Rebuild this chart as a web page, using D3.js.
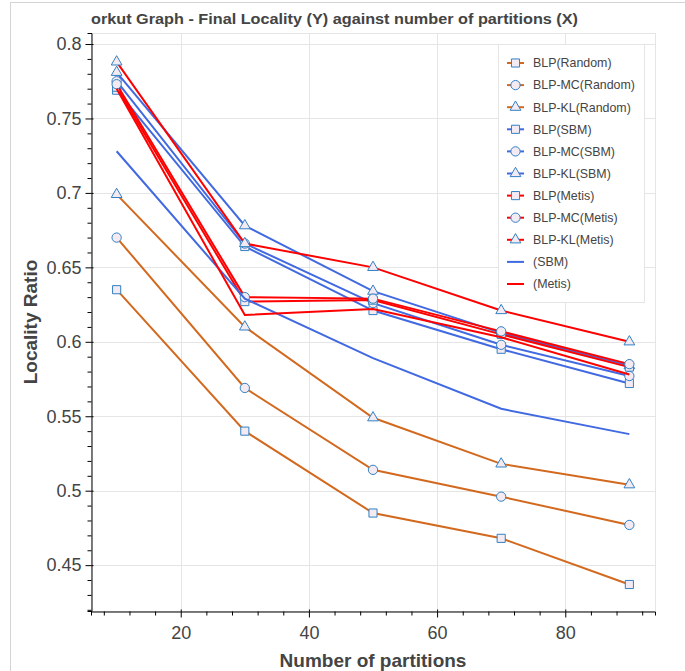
<!DOCTYPE html>
<meta charset="utf-8">
<style>

body {
  margin: 0;
  background: #fff;
}

text {
  font-family: "Liberation Sans", Arial, Helvetica, sans-serif;
  fill: #444;
}

.title {
  font-size: 14.5px;
  font-weight: bold;
}

.axis-label {
  font-size: 19px;
  font-weight: bold;
  text-anchor: middle;
}

.axis text {
  font-size: 18px;
  fill: #444;
}

.axis path,
.axis line {
  stroke: #000;
}

.grid line {
  stroke: #e5e5e5;
  stroke-width: 1px;
}

.legend text {
  font-size: 12.4px;
}

</style>
<svg width="685" height="671"></svg>
<script src="https://d3js.org/d3.v7.min.js"></script>
<script>

// values
var partitions = [10, 30, 50, 70, 90];

var blpRandom   = [0.635, 0.540, 0.485, 0.468, 0.437],
    blpMcRandom = [0.670, 0.569, 0.514, 0.496, 0.477],
    blpKlRandom = [0.699, 0.610, 0.549, 0.518, 0.504];

var blpSbm   = [0.769, 0.664, 0.621, 0.595, 0.572],
    blpMcSbm = [0.775, 0.666, 0.626, 0.598, 0.577],
    blpKlSbm = [0.781, 0.678, 0.634, 0.606, 0.584];

var blpMetis   = [0.771, 0.627, 0.628, 0.605, 0.583],
    blpMcMetis = [0.773, 0.630, 0.629, 0.607, 0.585],
    blpKlMetis = [0.788, 0.666, 0.650, 0.621, 0.600];

var sbmOnly   = [0.728, 0.629, 0.589, 0.555, 0.538],
    metisOnly = [0.770, 0.618, 0.622, 0.603, 0.578];

var seriesNames = ["BLP(Random)", "BLP-MC(Random)", "BLP-KL(Random)",
                   "BLP(SBM)", "BLP-MC(SBM)", "BLP-KL(SBM)",
                   "BLP(Metis)", "BLP-MC(Metis)", "BLP-KL(Metis)",
                   "(SBM)", "(Metis)"];

var xTicks = [20, 40, 60, 80],
    yTicks = [0.45, 0.5, 0.55, 0.6, 0.65, 0.7, 0.75, 0.8];

var orange = "#d2691e", blue = "#4169e1", red = "#ff0000";

var series = [
  {name: seriesNames[0],  values: blpRandom,   color: orange, marker: d3.symbolSquare},
  {name: seriesNames[1],  values: blpMcRandom, color: orange, marker: d3.symbolCircle},
  {name: seriesNames[2],  values: blpKlRandom, color: orange, marker: d3.symbolTriangle},
  {name: seriesNames[3],  values: blpSbm,      color: blue,   marker: d3.symbolSquare},
  {name: seriesNames[4],  values: blpMcSbm,    color: blue,   marker: d3.symbolCircle},
  {name: seriesNames[5],  values: blpKlSbm,    color: blue,   marker: d3.symbolTriangle},
  {name: seriesNames[6],  values: blpMetis,    color: red,    marker: d3.symbolSquare},
  {name: seriesNames[7],  values: blpMcMetis,  color: red,    marker: d3.symbolCircle},
  {name: seriesNames[8],  values: blpKlMetis,  color: red,    marker: d3.symbolTriangle},
  {name: seriesNames[9],  values: sbmOnly,     color: blue,   marker: null},
  {name: seriesNames[10], values: metisOnly,   color: red,    marker: null}
];

function symbolPath(type) {
  var size = type === d3.symbolSquare ? 66 : type === d3.symbolCircle ? 68 : 50;
  return d3.symbol().type(type).size(size)();
}

var svg = d3.select("svg"),
    plotLeft = 91, plotRight = 655, plotTop = 33, plotBottom = 611;

var x = d3.scaleLinear().domain([6, 94]).range([plotLeft, plotRight]),
    y = d3.scaleLinear().domain([0.4192, 0.8074]).range([plotBottom, plotTop]);

// outer frame of the output cell
svg.append("rect")
    .attr("x", 10.5).attr("y", 2.5)
    .attr("width", 700).attr("height", 700)
    .attr("fill", "none")
    .attr("stroke", "#d4d4d4");

svg.append("text")
    .attr("class", "title")
    .attr("x", plotLeft)
    .attr("y", 24)
    .attr("textLength", 487)
    .attr("lengthAdjust", "spacingAndGlyphs")
    .text("orkut Graph - Final Locality (Y) against number of partitions (X)");

// grid
var grid = svg.append("g").attr("class", "grid");
grid.selectAll(".gx")
  .data(xTicks)
  .enter().append("line")
    .attr("x1", function(d) { return Math.round(x(d)) + 0.5; })
    .attr("x2", function(d) { return Math.round(x(d)) + 0.5; })
    .attr("y1", plotTop).attr("y2", plotBottom);
grid.selectAll(".gy")
  .data(yTicks)
  .enter().append("line")
    .attr("y1", function(d) { return Math.round(y(d)) + 0.5; })
    .attr("y2", function(d) { return Math.round(y(d)) + 0.5; })
    .attr("x1", plotLeft).attr("x2", plotRight);

svg.append("rect")
    .attr("x", plotLeft + 0.5).attr("y", plotTop + 0.5)
    .attr("width", plotRight - plotLeft).attr("height", plotBottom - plotTop)
    .attr("fill", "none")
    .attr("stroke", "#e5e5e5");

// axes
var xMinor = d3.range(8, 94, 4).filter(function(d) { return d % 20 !== 0; }),
    yMinor = d3.range(42, 81).map(function(d) { return d / 100; })
      .filter(function(d) { return yTicks.indexOf(d) < 0; });

var xAxis = svg.append("g")
    .attr("class", "axis")
    .attr("transform", "translate(0," + (plotBottom + 0.5) + ")");
xAxis.call(d3.axisBottom(x).tickValues(xMinor).tickSize(4).tickFormat(""));
xAxis.append("g").call(d3.axisBottom(x).tickValues(xTicks).tickSize(6).tickPadding(9).tickFormat(d3.format("d")));
xAxis.append("g").call(d3.axisTop(x).tickValues(xTicks).tickSize(2).tickFormat(""));
xAxis.selectAll("g g .domain").remove();

var yAxis = svg.append("g")
    .attr("class", "axis")
    .attr("transform", "translate(" + (plotLeft + 0.5) + ",0)");
yAxis.call(d3.axisLeft(y).tickValues(yMinor).tickSize(4).tickFormat(""));
yAxis.append("g").call(d3.axisLeft(y).tickValues(yTicks).tickSize(6).tickPadding(4).tickFormat(d3.format("")));
yAxis.append("g").call(d3.axisRight(y).tickValues(yTicks).tickSize(2).tickFormat(""));
yAxis.selectAll("g g .domain").remove();

svg.append("text")
    .attr("class", "axis-label")
    .attr("transform", "translate(37," + (plotTop + plotBottom) / 2 + ") rotate(-90)")
    .text("Locality Ratio");

svg.append("text")
    .attr("class", "axis-label")
    .attr("x", (plotLeft + plotRight) / 2)
    .attr("y", 667)
    .text("Number of partitions");

// lines and markers
var line = d3.line()
    .x(function(d, i) { return x(partitions[i]); })
    .y(function(d) { return y(d); });

var plot = svg.append("g");

series.forEach(function(s) {
  plot.append("path")
      .attr("d", line(s.values))
      .attr("fill", "none")
      .attr("stroke", s.color)
      .attr("stroke-width", 2);

  if (s.marker) {
    plot.selectAll(null)
      .data(s.values)
      .enter().append("path")
        .attr("transform", function(d, i) { return "translate(" + x(partitions[i]) + "," + y(d) + ")"; })
        .attr("d", symbolPath(s.marker))
        .attr("fill", "#f3eaf2")
        .attr("stroke", "#3380c4")
        .attr("stroke-width", 1);
  }
});

// legend
var legend = svg.append("g").attr("class", "legend");

legend.append("rect")
    .attr("x", 498.5).attr("y", 44.5)
    .attr("width", 146).attr("height", 258)
    .attr("fill", "#fff")
    .attr("stroke", "#e5e5e5");

var item = legend.selectAll(".item")
  .data(series)
  .enter().append("g")
    .attr("transform", function(d, i) { return "translate(0," + (63 + i * 22.1) + ")"; });

item.append("line")
    .attr("x1", 507).attr("x2", 524)
    .attr("stroke", function(d) { return d.color; })
    .attr("stroke-width", 2);

item.filter(function(d) { return d.marker; })
  .append("path")
    .attr("transform", "translate(515.5,0)")
    .attr("d", function(d) { return symbolPath(d.marker); })
    .attr("fill", "#f3eaf2")
    .attr("stroke", "#3380c4");

item.append("text")
    .attr("x", 533)
    .attr("dy", "0.35em")
    .text(function(d) { return d.name; });

</script>
